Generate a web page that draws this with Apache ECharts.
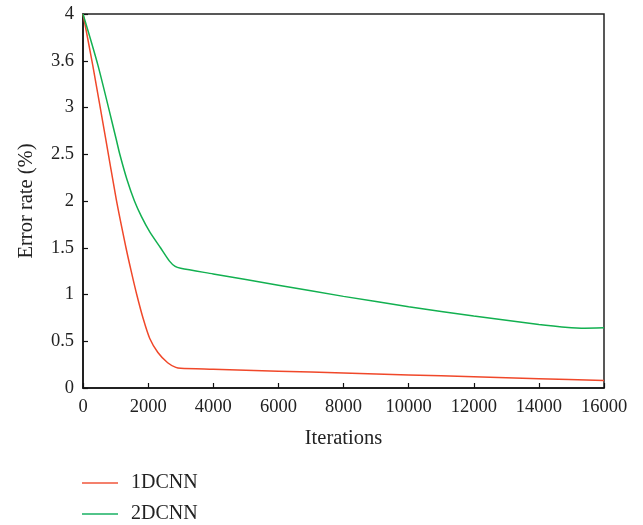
<!DOCTYPE html>
<html>
<head>
<meta charset="utf-8">
<script src="https://cdn.jsdelivr.net/npm/echarts@6/dist/echarts.min.js"></script>
<style>
  html, body { margin: 0; padding: 0; background: #fff; }
  #chart { width: 643px; height: 525px; }
</style>
</head>
<body>
<div id="chart"></div>
<script>
// Training error curves: [iterations, error rate %]
const seriesNames = ['1DCNN', '2DCNN'];
const cnn1d = [
  [0, 4.0], [300, 3.45], [700, 2.66], [1020, 2.02], [1320, 1.5], [1480, 1.25],
  [1650, 1.0], [1850, 0.74], [2050, 0.53], [2300, 0.38], [2600, 0.27], [2850, 0.22],
  [3000, 0.21], [4000, 0.20], [6000, 0.18], [8000, 0.16], [10000, 0.14],
  [12000, 0.12], [14000, 0.10], [16000, 0.08]
];
const cnn2d = [
  [0, 4.0], [460, 3.45], [1020, 2.66], [1130, 2.5], [1350, 2.23], [1580, 2.0],
  [1800, 1.83], [2050, 1.67], [2380, 1.5], [2650, 1.36], [2830, 1.3], [3000, 1.28],
  [4000, 1.22], [6000, 1.10], [8000, 0.98], [10000, 0.87], [12000, 0.77],
  [14000, 0.68], [15000, 0.645], [15300, 0.64], [16000, 0.645]
];
const yTickLabels = ['0', '0.5', '1', '1.5', '2', '2.5', '3', '3.6', '4'];
const xTickLabels = ['0', '2000', '4000', '6000', '8000', '10000', '12000', '14000', '16000'];

const lineColors = ['#f0482a', '#12b050'];
const legendColors = ['#f4806c', '#52c48a'];
const font = '"Liberation Serif", "DejaVu Serif", serif';

const chart = echarts.init(document.getElementById('chart'), null, { renderer: 'canvas' });
chart.setOption({
  animation: false,
  textStyle: { fontFamily: font },
  grid: {
    left: 83, right: 39, top: 14, bottom: 137,
    show: true, borderColor: '#222', borderWidth: 1.5, backgroundColor: 'transparent'
  },
  legend: {
    orient: 'vertical',
    left: 82, top: 473,
    padding: 0,
    icon: 'rect',
    itemWidth: 36, itemHeight: 2,
    itemGap: 11,
    textStyle: { fontFamily: font, fontSize: 20, color: '#222', lineHeight: 19, padding: [0, 0, 0, 8] },
    data: seriesNames.map((n, i) => ({ name: n, itemStyle: { color: legendColors[i] } }))
  },
  xAxis: {
    type: 'value', min: 0, max: 16000, interval: 2000,
    name: 'Iterations', nameLocation: 'middle', nameGap: 40,
    nameTextStyle: { fontFamily: font, fontSize: 20.5, color: '#222' },
    axisLine: { lineStyle: { color: '#111', width: 1.5 } },
    axisTick: { inside: true, length: 5, lineStyle: { color: '#111', width: 1.2 } },
    axisLabel: {
      fontFamily: font, fontSize: 18.5, color: '#222', margin: 10,
      formatter: v => xTickLabels[Math.round(v / 2000)]
    },
    splitLine: { show: false }
  },
  yAxis: {
    type: 'value', min: 0, max: 4, interval: 0.5,
    name: 'Error rate (%)', nameLocation: 'middle', nameGap: 46, nameRotate: 90,
    nameTextStyle: { fontFamily: font, fontSize: 20.5, color: '#222' },
    axisLine: { lineStyle: { color: '#111', width: 1.5 } },
    axisTick: { inside: true, length: 5, lineStyle: { color: '#111', width: 1.2 } },
    axisLabel: {
      fontFamily: font, fontSize: 18.5, color: '#222', margin: 9,
      formatter: v => yTickLabels[Math.round(v / 0.5)]
    },
    splitLine: { show: false }
  },
  series: [
    {
      name: seriesNames[0], type: 'line', data: cnn1d, showSymbol: false, symbol: 'none',
      smooth: 0.25, lineStyle: { color: lineColors[0], width: 1.5 }, itemStyle: { color: lineColors[0] }
    },
    {
      name: seriesNames[1], type: 'line', data: cnn2d, showSymbol: false, symbol: 'none',
      smooth: 0.25, lineStyle: { color: lineColors[1], width: 1.5 }, itemStyle: { color: lineColors[1] }
    }
  ]
});
</script>
</body>
</html>
